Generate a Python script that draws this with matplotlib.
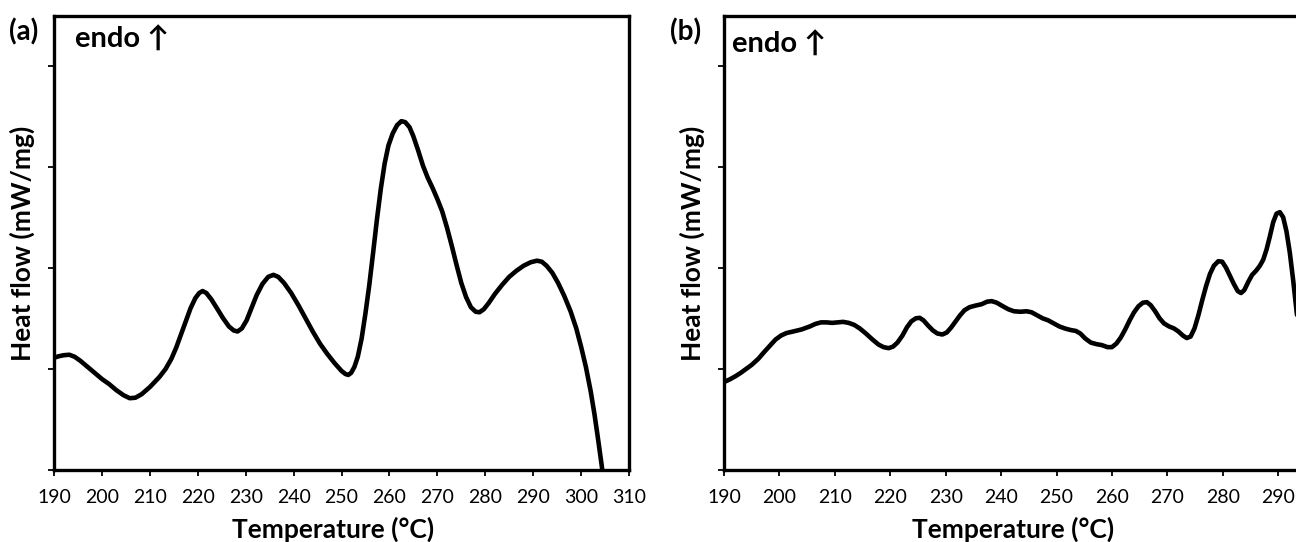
import matplotlib
matplotlib.use("Agg")
import matplotlib.pyplot as plt

plt.rcParams['font.family'] = ['Lato', 'DejaVu Sans']

# ---------------- data ----------------
temp_a = [190.0, 191.0, 192.0, 193.2, 194.3, 195.5, 197.0, 198.5, 200.0, 201.5,
          203.0, 204.5, 205.8, 207.0, 208.3, 210.0, 212.0, 213.3, 214.5, 215.5,
          216.5, 217.5, 218.5, 219.5, 220.3, 221.0, 221.8, 222.8, 224.0, 225.3,
          226.5, 227.5, 228.3, 229.2, 230.2, 231.2, 232.3, 233.5, 234.7, 235.8,
          236.8, 238.0, 239.5, 241.0, 242.5, 244.0, 245.5, 247.0, 248.5, 250.0,
          250.8, 251.4, 252.0, 252.7, 253.4, 254.2, 255.0, 255.8, 256.6, 257.4,
          258.2, 259.0, 259.8, 260.7, 261.6, 262.5, 263.3, 264.2, 265.0, 266.0,
          267.0, 268.0, 269.0, 270.0, 271.0, 272.0, 273.0, 274.0, 275.0, 276.0,
          277.0, 278.0, 278.8, 279.7, 280.7, 282.0, 283.5, 285.0, 286.5, 288.0,
          289.5, 290.8, 291.8, 292.8, 294.0, 295.2, 296.5, 297.8, 299.0, 300.0,
          301.0, 302.0, 302.8, 303.5, 304.2, 305.0]
flow_a = [1.11, 1.125, 1.135, 1.14, 1.12, 1.08, 1.02, 0.96, 0.90, 0.85,
          0.79, 0.74, 0.71, 0.715, 0.75, 0.82, 0.92, 1.00, 1.10, 1.21,
          1.34, 1.47, 1.60, 1.70, 1.75, 1.77, 1.75, 1.69, 1.60, 1.50,
          1.42, 1.38, 1.37, 1.40, 1.48, 1.60, 1.73, 1.84, 1.91, 1.93,
          1.91, 1.85, 1.75, 1.63, 1.50, 1.37, 1.25, 1.15, 1.06, 0.98,
          0.95, 0.94, 0.96, 1.02, 1.12, 1.30, 1.55, 1.83, 2.15, 2.48,
          2.78, 3.03, 3.21, 3.33, 3.41, 3.45, 3.44, 3.39, 3.30, 3.16,
          3.01, 2.89, 2.79, 2.68, 2.56, 2.40, 2.22, 2.03, 1.85, 1.71,
          1.61, 1.565, 1.56, 1.59, 1.65, 1.74, 1.83, 1.91, 1.97, 2.02,
          2.055, 2.07, 2.06, 2.02, 1.95, 1.85, 1.72, 1.57, 1.40, 1.22,
          1.02, 0.78, 0.55, 0.32, 0.08, -0.20]

temp_b = [190.0, 191.0, 192.0, 193.0, 194.0, 195.0, 196.2, 197.3, 198.3, 199.3,
          200.3, 201.3, 202.5, 204.0, 205.5, 206.5, 207.5, 208.5, 209.5, 210.5,
          211.5, 212.5, 213.5, 214.5, 215.6, 216.8, 217.9, 218.8, 219.7, 220.5,
          221.3, 222.2, 223.0, 223.8, 224.6, 225.3, 226.0, 226.8, 227.7, 228.5,
          229.4, 230.2, 231.0, 231.8, 232.6, 233.4, 234.3, 235.3, 236.5, 237.5,
          238.3, 239.2, 240.3, 241.3, 242.3, 243.5, 244.6, 245.5, 246.5, 247.5,
          248.5, 249.5, 250.5, 251.5, 252.5, 253.5, 254.3, 255.2, 256.2, 257.2,
          258.2, 259.2, 260.0, 260.8, 261.6, 262.4, 263.2, 264.0, 264.8, 265.6,
          266.3, 267.0, 267.8, 268.6, 269.4, 270.3, 271.2, 272.0, 272.8, 273.5,
          274.2, 274.9, 275.6, 276.3, 277.0, 277.7, 278.4, 279.2, 279.9, 280.6,
          281.3, 282.0, 282.7, 283.3, 283.9, 284.6, 285.3, 286.0, 286.7, 287.3,
          287.9, 288.5, 289.1, 289.7, 290.3, 290.9, 291.5, 292.1, 292.7, 293.3,
          294.0]
flow_b = [0.87, 0.895, 0.925, 0.96, 1.00, 1.04, 1.10, 1.17, 1.23, 1.29,
          1.33, 1.355, 1.37, 1.39, 1.42, 1.445, 1.46, 1.46, 1.455, 1.46,
          1.465, 1.455, 1.435, 1.40, 1.35, 1.29, 1.24, 1.215, 1.205, 1.22,
          1.26, 1.33, 1.41, 1.47, 1.50, 1.505, 1.48, 1.43, 1.38, 1.35,
          1.34, 1.36, 1.41, 1.47, 1.53, 1.58, 1.61, 1.625, 1.64, 1.665,
          1.67, 1.655, 1.62, 1.59, 1.57, 1.565, 1.57, 1.56, 1.53, 1.50,
          1.48, 1.45, 1.42, 1.40, 1.385, 1.375, 1.35, 1.30, 1.26, 1.245,
          1.235, 1.215, 1.215, 1.25, 1.31, 1.39, 1.48, 1.56, 1.62, 1.655,
          1.66, 1.63, 1.57, 1.50, 1.45, 1.42, 1.40, 1.37, 1.33, 1.305,
          1.32, 1.40, 1.53, 1.68, 1.82, 1.94, 2.02, 2.065, 2.06, 2.00,
          1.92, 1.84, 1.77, 1.75, 1.78, 1.86, 1.93, 1.97, 2.02, 2.08,
          2.18, 2.31, 2.45, 2.535, 2.55, 2.50, 2.36, 2.15, 1.88, 1.58,
          1.25]

xticks = [190, 200, 210, 220, 230, 240, 250, 260, 270, 280, 290, 300, 310]
xticklabels_a = ['190', '200', '210', '220', '230', '240', '250', '260', '270',
                 '280', '290', '300', '310']
xticklabels_b = ['190', '200', '210', '220', '230', '240', '250', '260', '270',
                 '280', '290', '', '']
yticks = [0, 1, 2, 3, 4]
panel_labels = ['(a)', '(b)']
xlabel_text = 'Temperature (°C)'
ylabel_text = 'Heat flow (mW/mg)'
endo_text = 'endo \u2191'

# ---------------- figure ----------------
W, H = 1296, 542
fig = plt.figure(figsize=(W / 100, H / 100), dpi=100)

def px_axes(left, top, right, bottom):
    return fig.add_axes([left / W, 1 - bottom / H, (right - left) / W, (bottom - top) / H])

ax_a = px_axes(54, 16, 629, 470)
ax_b = px_axes(724, 16, 1389, 470)

for ax, t, f, labs, xlab_pos in [(ax_a, temp_a, flow_a, xticklabels_a, 0.486),
                                 (ax_b, temp_b, flow_b, xticklabels_b, 0.435)]:
    ax.plot(t, f, color='black', lw=3.3, solid_joinstyle='round', solid_capstyle='round')
    ax.set_xlim(190, 310)
    ax.set_ylim(0, 4.49)
    ax.set_xticks(xticks)
    ax.set_xticklabels(labs)
    ax.set_yticks(yticks)
    ax.set_yticklabels([])
    ax.tick_params(axis='both', direction='out', length=4, width=1.3, colors='black')
    ax.tick_params(axis='x', labelsize=14, pad=10)
    for s in ax.spines.values():
        s.set_linewidth(2.4)
        s.set_color('black')
    ax.set_xlabel(xlabel_text, fontsize=19, fontweight='bold')
    ax.xaxis.set_label_coords(xlab_pos, -0.102)
    ax.set_ylabel(ylabel_text, fontsize=19, fontweight='bold', labelpad=6)

fig.text(9 / W, 1 - 40 / H, panel_labels[0], fontsize=20, fontweight='bold', ha='left', va='baseline')
fig.text(670 / W, 1 - 40 / H, panel_labels[1], fontsize=20, fontweight='bold', ha='left', va='baseline')
fig.text(75 / W, 1 - 48 / H, endo_text, fontsize=21, fontweight='bold', ha='left', va='baseline')
fig.text(732 / W, 1 - 53 / H, endo_text, fontsize=21, fontweight='bold', ha='left', va='baseline')

fig.savefig('out.png', dpi=100)
